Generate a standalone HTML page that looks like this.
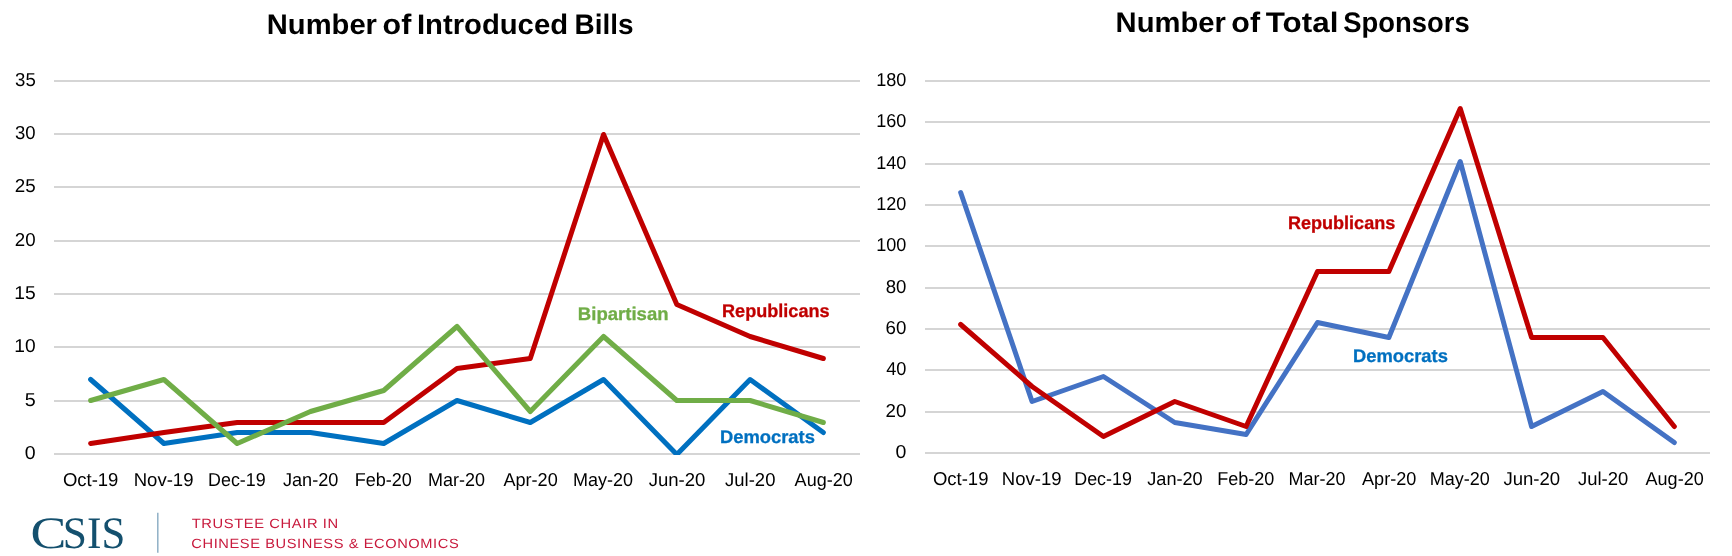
<!DOCTYPE html>
<html lang="en">
<head>
<meta charset="utf-8">
<title>Number of Introduced Bills / Number of Total Sponsors</title>
<style>
html,body{margin:0;padding:0;background:#fff;}
body{width:1732px;height:556px;overflow:hidden;}
svg{display:block;will-change:transform;}
text{font-family:"Liberation Sans",sans-serif;text-rendering:geometricPrecision;}
.grid{stroke:#d5d5d5;stroke-width:2;}
.ax{font-size:18.7px;fill:#000;}
.ser{fill:none;stroke-width:5;stroke-linecap:round;stroke-linejoin:round;}
.title{font-size:28.2px;font-weight:bold;fill:#000;}
.lab{font-size:18.3px;font-weight:bold;stroke-width:.3;}
.csis{font-family:"Liberation Serif",serif;font-size:45px;fill:#14506e;}
.tag{font-size:13.4px;letter-spacing:0.55px;fill:#c8193c;}
</style>
</head>
<body>
<svg width="1732" height="556" viewBox="0 0 1732 556">
<rect width="1732" height="556" fill="#ffffff"/>
<!-- left chart -->
<line class="grid" x1="54.0" x2="860.0" y1="454.00" y2="454.00"/>
<text class="ax" x="24.82" y="459.00" textLength="10.89" lengthAdjust="spacingAndGlyphs">0</text>
<line class="grid" x1="54.0" x2="860.0" y1="401.00" y2="401.00"/>
<text class="ax" x="24.81" y="406.00" textLength="11.01" lengthAdjust="spacingAndGlyphs">5</text>
<line class="grid" x1="54.0" x2="860.0" y1="347.00" y2="347.00"/>
<text class="ax" x="14.36" y="352.00" textLength="21.36" lengthAdjust="spacingAndGlyphs">10</text>
<line class="grid" x1="54.0" x2="860.0" y1="294.00" y2="294.00"/>
<text class="ax" x="14.35" y="299.00" textLength="21.46" lengthAdjust="spacingAndGlyphs">15</text>
<line class="grid" x1="54.0" x2="860.0" y1="241.00" y2="241.00"/>
<text class="ax" x="14.86" y="246.00" textLength="20.84" lengthAdjust="spacingAndGlyphs">20</text>
<line class="grid" x1="54.0" x2="860.0" y1="187.00" y2="187.00"/>
<text class="ax" x="14.86" y="192.00" textLength="20.94" lengthAdjust="spacingAndGlyphs">25</text>
<line class="grid" x1="54.0" x2="860.0" y1="134.00" y2="134.00"/>
<text class="ax" x="15.06" y="139.00" textLength="20.63" lengthAdjust="spacingAndGlyphs">30</text>
<line class="grid" x1="54.0" x2="860.0" y1="81.00" y2="81.00"/>
<text class="ax" x="15.05" y="86.00" textLength="20.73" lengthAdjust="spacingAndGlyphs">35</text>
<text class="ax" x="62.90" y="486.00" textLength="55.48" lengthAdjust="spacingAndGlyphs">Oct-19</text>
<text class="ax" x="133.68" y="486.00" textLength="59.80" lengthAdjust="spacingAndGlyphs">Nov-19</text>
<text class="ax" x="208.05" y="486.00" textLength="57.61" lengthAdjust="spacingAndGlyphs">Dec-19</text>
<text class="ax" x="282.93" y="486.00" textLength="55.46" lengthAdjust="spacingAndGlyphs">Jan-20</text>
<text class="ax" x="354.78" y="486.00" textLength="57.14" lengthAdjust="spacingAndGlyphs">Feb-20</text>
<text class="ax" x="428.11" y="486.00" textLength="57.02" lengthAdjust="spacingAndGlyphs">Mar-20</text>
<text class="ax" x="503.42" y="486.00" textLength="54.36" lengthAdjust="spacingAndGlyphs">Apr-20</text>
<text class="ax" x="573.10" y="486.00" textLength="60.06" lengthAdjust="spacingAndGlyphs">May-20</text>
<text class="ax" x="648.64" y="486.00" textLength="56.78" lengthAdjust="spacingAndGlyphs">Jun-20</text>
<text class="ax" x="725.11" y="486.00" textLength="50.30" lengthAdjust="spacingAndGlyphs">Jul-20</text>
<text class="ax" x="794.61" y="486.00" textLength="58.13" lengthAdjust="spacingAndGlyphs">Aug-20</text>
<clipPath id="clip35"><rect x="44.0" y="0" width="826.0" height="455.0"/></clipPath>
<g clip-path="url(#clip35)">
<polyline class="ser" stroke="#0070C0" points="90.64,379.5 163.91,443.5 237.18,432.5 310.45,432.5 383.73,443.5 457.00,400.5 530.27,422.5 603.55,379.5 676.82,454.5 750.09,379.5 823.36,432.5"/>
<polyline class="ser" stroke="#C00000" points="90.64,443.5 163.91,432.5 237.18,422.5 310.45,422.5 383.73,422.5 457.00,368.5 530.27,358.5 603.55,134.5 676.82,304.5 750.09,336.5 823.36,358.5"/>
<polyline class="ser" stroke="#70AD47" points="90.64,400.5 163.91,379.5 237.18,443.5 310.45,411.5 383.73,390.5 457.00,326.5 530.27,411.5 603.55,336.5 676.82,400.5 750.09,400.5 823.36,422.5"/>
</g>
<text class="title" x="266.80" y="34.00" textLength="110.19" lengthAdjust="spacingAndGlyphs">Number</text>
<text class="title" x="382.58" y="34.00" textLength="28.68" lengthAdjust="spacingAndGlyphs">of</text>
<text class="title" x="416.90" y="34.00" textLength="151.15" lengthAdjust="spacingAndGlyphs">Introduced</text>
<text class="title" x="574.48" y="34.00" textLength="58.98" lengthAdjust="spacingAndGlyphs">Bills</text>
<text class="lab" x="577.89" y="320.00" textLength="90.67" lengthAdjust="spacingAndGlyphs" fill="#70AD47" stroke="#70AD47">Bipartisan</text>
<text class="lab" x="722.02" y="317.00" textLength="107.57" lengthAdjust="spacingAndGlyphs" fill="#C00000" stroke="#C00000">Republicans</text>
<text class="lab" x="719.91" y="443.00" textLength="94.96" lengthAdjust="spacingAndGlyphs" fill="#0070C0" stroke="#0070C0">Democrats</text>
<!-- right chart -->
<line class="grid" x1="925.0" x2="1710.0" y1="453.00" y2="453.00"/>
<text class="ax" x="895.52" y="458.00" textLength="10.89" lengthAdjust="spacingAndGlyphs">0</text>
<line class="grid" x1="925.0" x2="1710.0" y1="412.00" y2="412.00"/>
<text class="ax" x="885.56" y="417.00" textLength="20.84" lengthAdjust="spacingAndGlyphs">20</text>
<line class="grid" x1="925.0" x2="1710.0" y1="370.00" y2="370.00"/>
<text class="ax" x="886.14" y="375.00" textLength="20.24" lengthAdjust="spacingAndGlyphs">40</text>
<line class="grid" x1="925.0" x2="1710.0" y1="329.00" y2="329.00"/>
<text class="ax" x="885.56" y="334.00" textLength="20.84" lengthAdjust="spacingAndGlyphs">60</text>
<line class="grid" x1="925.0" x2="1710.0" y1="288.00" y2="288.00"/>
<text class="ax" x="885.66" y="293.00" textLength="20.73" lengthAdjust="spacingAndGlyphs">80</text>
<line class="grid" x1="925.0" x2="1710.0" y1="246.00" y2="246.00"/>
<text class="ax" x="876.24" y="251.00" textLength="30.15" lengthAdjust="spacingAndGlyphs">100</text>
<line class="grid" x1="925.0" x2="1710.0" y1="205.00" y2="205.00"/>
<text class="ax" x="876.24" y="210.00" textLength="30.15" lengthAdjust="spacingAndGlyphs">120</text>
<line class="grid" x1="925.0" x2="1710.0" y1="164.00" y2="164.00"/>
<text class="ax" x="876.24" y="169.00" textLength="30.15" lengthAdjust="spacingAndGlyphs">140</text>
<line class="grid" x1="925.0" x2="1710.0" y1="122.00" y2="122.00"/>
<text class="ax" x="876.24" y="127.00" textLength="30.15" lengthAdjust="spacingAndGlyphs">160</text>
<line class="grid" x1="925.0" x2="1710.0" y1="81.00" y2="81.00"/>
<text class="ax" x="876.24" y="86.00" textLength="30.15" lengthAdjust="spacingAndGlyphs">180</text>
<text class="ax" x="932.95" y="485.00" textLength="55.48" lengthAdjust="spacingAndGlyphs">Oct-19</text>
<text class="ax" x="1001.81" y="485.00" textLength="59.80" lengthAdjust="spacingAndGlyphs">Nov-19</text>
<text class="ax" x="1074.28" y="485.00" textLength="57.61" lengthAdjust="spacingAndGlyphs">Dec-19</text>
<text class="ax" x="1147.25" y="485.00" textLength="55.46" lengthAdjust="spacingAndGlyphs">Jan-20</text>
<text class="ax" x="1217.19" y="485.00" textLength="57.14" lengthAdjust="spacingAndGlyphs">Feb-20</text>
<text class="ax" x="1288.61" y="485.00" textLength="57.02" lengthAdjust="spacingAndGlyphs">Mar-20</text>
<text class="ax" x="1362.01" y="485.00" textLength="54.36" lengthAdjust="spacingAndGlyphs">Apr-20</text>
<text class="ax" x="1429.79" y="485.00" textLength="60.06" lengthAdjust="spacingAndGlyphs">May-20</text>
<text class="ax" x="1503.41" y="485.00" textLength="56.78" lengthAdjust="spacingAndGlyphs">Jun-20</text>
<text class="ax" x="1577.98" y="485.00" textLength="50.30" lengthAdjust="spacingAndGlyphs">Jul-20</text>
<text class="ax" x="1645.57" y="485.00" textLength="58.13" lengthAdjust="spacingAndGlyphs">Aug-20</text>
<clipPath id="clip180"><rect x="915.0" y="0" width="805.0" height="454.0"/></clipPath>
<g clip-path="url(#clip180)">
<polyline class="ser" stroke="#4472C4" points="960.68,192.5 1032.05,401.5 1103.41,376.5 1174.77,422.5 1246.14,434.5 1317.50,322.5 1388.86,337.5 1460.23,161.5 1531.59,426.5 1602.95,391.5 1674.32,442.5"/>
<polyline class="ser" stroke="#C00000" points="960.68,324.5 1032.05,386.5 1103.41,436.5 1174.77,401.5 1246.14,426.5 1317.50,271.5 1388.86,271.5 1460.23,108.5 1531.59,337.5 1602.95,337.5 1674.32,426.5"/>
</g>
<text class="title" x="1115.60" y="32.00" textLength="110.29" lengthAdjust="spacingAndGlyphs">Number</text>
<text class="title" x="1231.38" y="32.00" textLength="28.68" lengthAdjust="spacingAndGlyphs">of</text>
<text class="title" x="1265.79" y="32.00" textLength="72.59" lengthAdjust="spacingAndGlyphs">Total</text>
<text class="title" x="1343.28" y="32.00" textLength="126.37" lengthAdjust="spacingAndGlyphs">Sponsors</text>
<text class="lab" x="1287.93" y="229.00" textLength="107.36" lengthAdjust="spacingAndGlyphs" fill="#C00000" stroke="#C00000">Republicans</text>
<text class="lab" x="1353.11" y="362.00" textLength="94.76" lengthAdjust="spacingAndGlyphs" fill="#0070C0" stroke="#0070C0">Democrats</text>
<!-- logo -->
<text class="csis" x="30.55" y="548.00" textLength="35.81" lengthAdjust="spacingAndGlyphs">C</text>
<text class="csis" x="62.67" y="548.00" textLength="24.19" lengthAdjust="spacingAndGlyphs">S</text>
<text class="csis" x="87.08" y="548.00" textLength="14.45" lengthAdjust="spacingAndGlyphs">I</text>
<text class="csis" x="101.62" y="548.00" textLength="23.80" lengthAdjust="spacingAndGlyphs">S</text>
<line x1="157.8" x2="157.8" y1="512.7" y2="552.7" stroke="#8fb0c6" stroke-width="1.5"/>
<text class="tag" x="191.79" y="528.00" textLength="146.94" lengthAdjust="spacingAndGlyphs">TRUSTEE CHAIR IN</text>
<text class="tag" x="191.32" y="548.00" textLength="267.99" lengthAdjust="spacingAndGlyphs">CHINESE BUSINESS &amp; ECONOMICS</text>
</svg>
</body>
</html>
